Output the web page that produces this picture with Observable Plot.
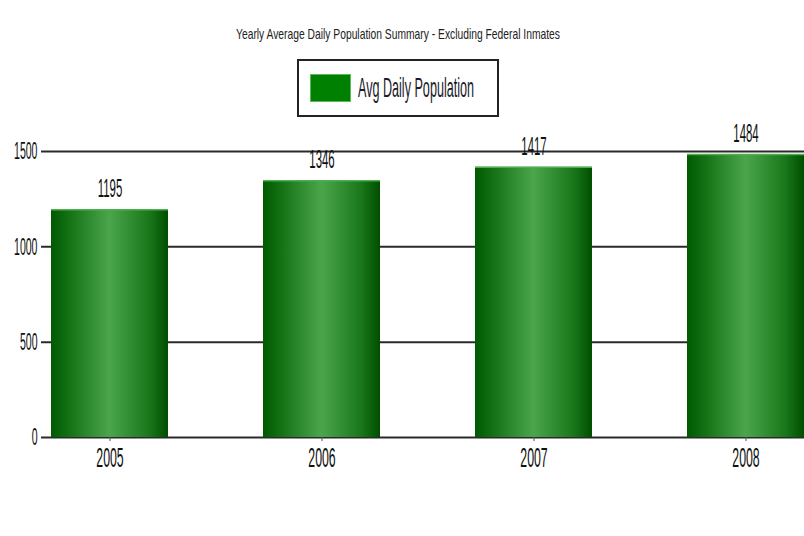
<!DOCTYPE html>
<html>
<head>
<meta charset="utf-8">
<script src="https://cdn.jsdelivr.net/npm/d3@7"></script>
<script src="https://cdn.jsdelivr.net/npm/@observablehq/plot@0.6"></script>
<style>
  html, body { margin: 0; padding: 0; background: white; overflow: hidden; }
  #wrap { width: 804px; height: 536px; position: relative; }
  svg { display: block; }
</style>
</head>
<body>
<div id="wrap"></div>
<script>
const years = ["2005", "2006", "2007", "2008"];
const population = [1195, 1346, 1417, 1484];
const yTicks = [0, 500, 1000, 1500];
const titleText = "Yearly Average Daily Population Summary - Excluding Federal Inmates";
const legendLabel = "Avg Daily Population";

const data = years.map((year, i) => ({year, value: population[i]}));
const FONT = "'Liberation Sans', Arial, sans-serif";

const wrap = document.getElementById("wrap");

// Header: title + legend (above the chart SVG)
const header = d3.create("svg").attr("width", 804).attr("height", 118);
header.append("text")
  .attr("x", 236).attr("y", 39)
  .attr("font-family", FONT).attr("font-size", 15).attr("fill", "#222")
  .attr("textLength", 324).attr("lengthAdjust", "spacingAndGlyphs")
  .text(titleText);
header.append("rect")
  .attr("x", 298).attr("y", 60).attr("width", 200).attr("height", 56)
  .attr("fill", "white").attr("stroke", "#222").attr("stroke-width", 2);
header.append("rect")
  .attr("x", 310.5).attr("y", 74.5).attr("width", 40).attr("height", 27)
  .attr("fill", "#008000").attr("stroke", "#5cb85c").attr("stroke-width", 1);
header.append("text")
  .attr("x", 358).attr("y", 97)
  .attr("font-family", FONT).attr("font-size", 28).attr("fill", "#1a1a2a")
  .attr("textLength", 116).attr("lengthAdjust", "spacingAndGlyphs")
  .text(legendLabel);
wrap.appendChild(header.node());

const chart = Plot.plot({
  width: 804,
  height: 418,
  marginTop: 33,
  marginBottom: 99,
  marginLeft: 41,
  marginRight: 0,
  style: {fontFamily: FONT, background: "white", color: "#111"},
  x: {type: "band", domain: years, range: [41, 813.5], paddingInner: 0.4494, paddingOuter: 0.04235},
  y: {domain: [0, 1500]},
  marks: [
    Plot.ruleY(yTicks, {stroke: "#2a2a2a", strokeWidth: 2}),
    Plot.barY(data, {x: "year", y: "value", fill: "url(#barGrad)"}),
    Plot.tickY(data, {x: "year", y: "value", stroke: "#4fae4f", strokeWidth: 1.5}),
    Plot.text(data, {x: "year", y: "value", text: d => String(d.value), dy: -21, lineAnchor: "middle", fontSize: 26, fill: "#111"}),
    Plot.axisY({ticks: yTicks, tickSize: 0, tickPadding: 4, fontSize: 24, tickFormat: d => String(d), label: null, fill: "#111"}),
    Plot.axisX({tickSize: 4, tickPadding: 6, fontSize: 28, label: null, stroke: "#555", fill: "#111"})
  ]
});

// gradient for bars
const defs = d3.select(chart).insert("defs", ":first-child");
const grad = defs.append("linearGradient").attr("id", "barGrad")
  .attr("x1", "0").attr("x2", "1").attr("y1", "0").attr("y2", "0");
[["0%", "#005a00"], ["15%", "#137013"], ["50%", "#4ba64b"], ["85%", "#187518"], ["100%", "#004e00"]]
  .forEach(([o, c]) => grad.append("stop").attr("offset", o).attr("stop-color", c));

wrap.appendChild(chart);

// horizontally condense all chart texts (narrow, tall look of the original)
chart.querySelectorAll("text").forEach(t => {
  const x = parseFloat(t.getAttribute("x")) || 0;
  const tr = t.getAttribute("transform") || "";
  const s = 0.44;
  t.setAttribute("transform", `${tr} translate(${x},0) scale(${s},1) translate(${-x},0)`);
});
</script>
</body>
</html>
